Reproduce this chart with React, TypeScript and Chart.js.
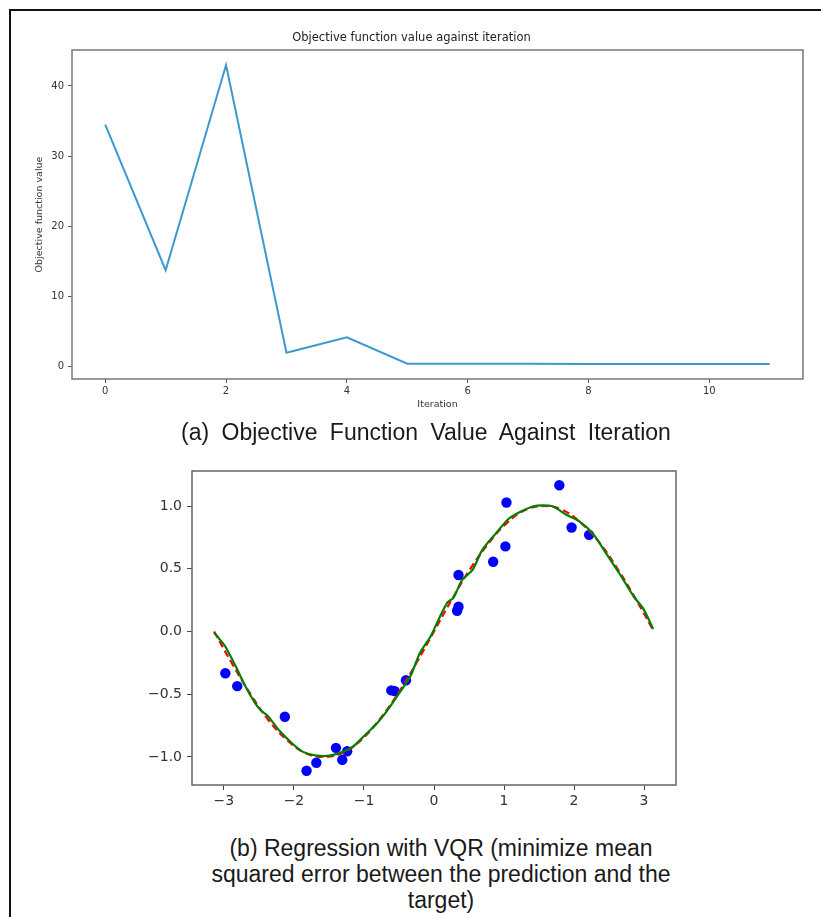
import React, { useEffect, useRef } from 'react';
import { Chart, registerables } from 'chart.js';

Chart.register(...registerables);

// ---------- Data: (a) objective function value against iteration ----------
const iterations = [0, 1, 2, 3, 4, 5, 6, 7, 8, 9, 10, 11];
const objectiveValues = [34.5, 13.7, 43.0, 1.9, 4.1, 0.35, 0.33, 0.32, 0.31, 0.31, 0.3, 0.3];
const iterTicks = [0, 2, 4, 6, 8, 10];
const objTicks = [0, 10, 20, 30, 40];

// ---------- Data: (b) regression with VQR ----------
const targetX = [-3.14, -2.88, -2.62, -2.36, -2.09, -1.83, -1.57, -1.31, -1.05, -0.79, -0.52, -0.26, 0,
  0.26, 0.52, 0.79, 1.05, 1.31, 1.57, 1.83, 2.09, 2.36, 2.62, 2.88, 3.14];
const targetY = [0, -0.26, -0.5, -0.71, -0.87, -0.97, -1.0, -0.97, -0.87, -0.71, -0.5, -0.26, 0,
  0.26, 0.5, 0.71, 0.87, 0.97, 1.0, 0.97, 0.87, 0.71, 0.5, 0.26, 0];

const predX = [-3.14, -3.07, -2.98, -2.83, -2.69, -2.55, -2.47, -2.38, -2.21, -2.02, -1.87, -1.68, -1.49,
  -1.3, -1.155, -1.01, -0.82, -0.7, -0.53, -0.34, -0.2, -0.05, 0.07, 0.19, 0.28, 0.4, 0.55, 0.69, 0.88,
  1.07, 1.22, 1.41, 1.55, 1.7, 1.89, 2.08, 2.27, 2.46, 2.65, 2.85, 2.99, 3.13];
const predY = [-0.01, -0.056, -0.12, -0.28, -0.44, -0.575, -0.63, -0.67, -0.79, -0.895, -0.96, -0.99, -0.99,
  -0.96, -0.917, -0.84, -0.735, -0.655, -0.52, -0.36, -0.17, -0.04, 0.1, 0.23, 0.27, 0.41, 0.49, 0.65, 0.78,
  0.9, 0.95, 0.996, 1.005, 0.996, 0.93, 0.876, 0.78, 0.62, 0.46, 0.28, 0.18, 0.02];

const sampleX = [-2.98, -2.81, -2.13, -1.82, -1.68, -1.4, -1.31, -1.24, -0.61, -0.56, -0.4,
  0.33, 0.35, 0.35, 0.845, 1.02, 1.035, 1.79, 1.965, 2.215];
const sampleY = [-0.333, -0.436, -0.68, -1.11, -1.047, -0.928, -1.024, -0.955, -0.47, -0.476, -0.389,
  0.165, 0.197, 0.45, 0.556, 0.678, 1.028, 1.165, 0.829, 0.77];

const regXTicks = [-3, -2, -1, 0, 1, 2, 3];
const regYTicks = [-1.0, -0.5, 0.0, 0.5, 1.0];

const MPL_FONT = 'DejaVu Sans';
const CAPTION_FONT = "'Liberation Sans', Arial, sans-serif";

const minus = (s: string) => s.replace('-', '\u2212');

const boxPlugin = {
  id: 'axesBox',
  afterDraw(chart: any, _args: any, opts: any) {
    const { ctx, chartArea } = chart;
    const { left, top, right, bottom } = chartArea;
    ctx.save();
    ctx.strokeStyle = opts.color || '#666';
    ctx.lineWidth = opts.width || 1.2;
    ctx.strokeRect(left, top, right - left, bottom - top);
    ctx.restore();
  },
};

function ObjectiveChart() {
  const ref = useRef<HTMLCanvasElement | null>(null);
  useEffect(() => {
    if (!ref.current) return;
    const tickFont = { family: MPL_FONT, size: 10 };
    const labelFont = { family: MPL_FONT, size: 9.5 };
    const chart = new Chart(ref.current, {
      type: 'scatter',
      data: {
        datasets: [
          {
            data: iterations.map((x, i) => ({ x, y: objectiveValues[i] })),
            showLine: true,
            borderColor: '#3a9ad0',
            borderWidth: 2,
            pointRadius: 0,
            tension: 0,
          },
        ],
      },
      options: {
        animation: false,
        responsive: false,
        devicePixelRatio: 1,
        layout: { padding: { left: 0, right: 17, top: 0, bottom: 0 } },
        plugins: {
          legend: { display: false },
          tooltip: { enabled: false },
          title: {
            display: true,
            text: 'Objective function value against iteration',
            color: '#222',
            font: { family: MPL_FONT, size: 11.5, weight: 'normal', lineHeight: '14px' },
            padding: { top: 11, bottom: 5 },
          },
          axesBox: { color: '#777', width: 1.5 },
        } as any,
        scales: {
          x: {
            type: 'linear',
            min: -0.55,
            max: 11.55,
            afterBuildTicks: (s: any) => { s.ticks = iterTicks.map((v) => ({ value: v })); },
            afterFit: (s: any) => { s.height = 41; },
            ticks: { font: tickFont, color: '#333', padding: 2, maxRotation: 0, autoSkip: false },
            grid: { display: true, drawOnChartArea: false, drawTicks: true, tickLength: 4, color: '#555' },
            border: { display: false },
            title: { display: true, text: 'Iteration', font: labelFont, color: '#333', padding: { top: 0, bottom: 9.6 } },
          },
          y: {
            type: 'linear',
            min: -1.84,
            max: 45.14,
            afterBuildTicks: (s: any) => { s.ticks = objTicks.map((v) => ({ value: v })); },
            afterFit: (s: any) => { s.width = 52; },
            ticks: { font: tickFont, color: '#333', padding: 4, autoSkip: false },
            grid: { display: true, drawOnChartArea: false, drawTicks: true, tickLength: 4, color: '#555' },
            border: { display: false },
            title: { display: true, text: 'Objective function value', font: labelFont, color: '#333', padding: { top: 13.6, bottom: 0 } },
          },
        },
      },
      plugins: [boxPlugin],
    } as any);
    return () => chart.destroy();
  }, []);
  return (
    <canvas
      ref={ref}
      width={800}
      height={400}
      style={{ position: 'absolute', left: 20, top: 20, width: 800, height: 400, display: 'block' }}
    />
  );
}

function RegressionChart() {
  const ref = useRef<HTMLCanvasElement | null>(null);
  useEffect(() => {
    if (!ref.current) return;
    const tickFont = { family: MPL_FONT, size: 14 };
    const chart = new Chart(ref.current, {
      type: 'scatter',
      data: {
        datasets: [
          {
            label: 'prediction',
            data: predX.map((x, i) => ({ x, y: predY[i] })),
            showLine: true,
            borderColor: '#008000',
            borderWidth: 2.2,
            pointRadius: 0,
            tension: 0.25,
          },
          {
            label: 'target',
            data: targetX.map((x, i) => ({ x, y: targetY[i] })),
            showLine: true,
            borderColor: '#ff0000',
            borderWidth: 2.2,
            borderDash: [7, 4],
            pointRadius: 0,
            tension: 0.4,
          },
          {
            label: 'samples',
            data: sampleX.map((x, i) => ({ x, y: sampleY[i] })),
            backgroundColor: '#0000ff',
            borderWidth: 0,
            pointRadius: 5.2,
          },
        ],
      },
      options: {
        animation: false,
        responsive: false,
        devicePixelRatio: 1,
        layout: { padding: { left: 0, right: 24, top: 16, bottom: 0 } },
        plugins: {
          legend: { display: false },
          tooltip: { enabled: false },
          axesBox: { color: '#666', width: 1.5 },
        } as any,
        scales: {
          x: {
            type: 'linear',
            min: -3.456,
            max: 3.456,
            afterBuildTicks: (s: any) => { s.ticks = regXTicks.map((v) => ({ value: v })); },
            afterFit: (s: any) => { s.height = 35; },
            ticks: { font: tickFont, color: '#333', padding: 3, maxRotation: 0, autoSkip: false, callback: (v: any) => minus(String(v)) },
            grid: { display: true, drawOnChartArea: false, drawTicks: true, tickLength: 5, color: '#444' },
            border: { display: false },
          },
          y: {
            type: 'linear',
            min: -1.224,
            max: 1.279,
            afterBuildTicks: (s: any) => { s.ticks = regYTicks.map((v) => ({ value: v })); },
            afterFit: (s: any) => { s.width = 72; },
            ticks: { font: tickFont, color: '#333', padding: 5, autoSkip: false, callback: (v: any) => minus(Number(v).toFixed(1)) },
            grid: { display: true, drawOnChartArea: false, drawTicks: true, tickLength: 5, color: '#444' },
            border: { display: false },
          },
        },
      },
      plugins: [boxPlugin],
    } as any);
    return () => chart.destroy();
  }, []);
  return (
    <canvas
      ref={ref}
      width={580}
      height={365}
      style={{ position: 'absolute', left: 120, top: 455, width: 580, height: 365, display: 'block' }}
    />
  );
}

export default function App() {
  return (
    <div
      style={{
        position: 'absolute',
        left: 0,
        top: 0,
        width: 821,
        height: 917,
        background: '#fff',
        overflow: 'hidden',
      }}
    >
      <div
        style={{
          position: 'absolute',
          left: 9,
          top: 9,
          width: 830,
          height: 930,
          borderTop: '2px solid #111',
          borderLeft: '2px solid #111',
        }}
      />
      <ObjectiveChart />
      <div
        style={{
          position: 'absolute',
          left: 126,
          top: 419,
          width: 600,
          textAlign: 'center',
          fontFamily: CAPTION_FONT,
          fontSize: 23,
          lineHeight: '26px',
          wordSpacing: 6,
          color: '#1a1a1a',
          whiteSpace: 'nowrap',
        }}
      >
        (a) Objective Function Value Against Iteration
      </div>
      <RegressionChart />
      <div
        style={{
          position: 'absolute',
          left: 141,
          top: 835,
          width: 600,
          textAlign: 'center',
          fontFamily: CAPTION_FONT,
          fontSize: 23,
          lineHeight: '26px',
          color: '#1a1a1a',
          whiteSpace: 'nowrap',
        }}
      >
        (b) Regression with VQR (minimize mean
        <br />
        squared error between the prediction and the
        <br />
        target)
      </div>
    </div>
  );
}
